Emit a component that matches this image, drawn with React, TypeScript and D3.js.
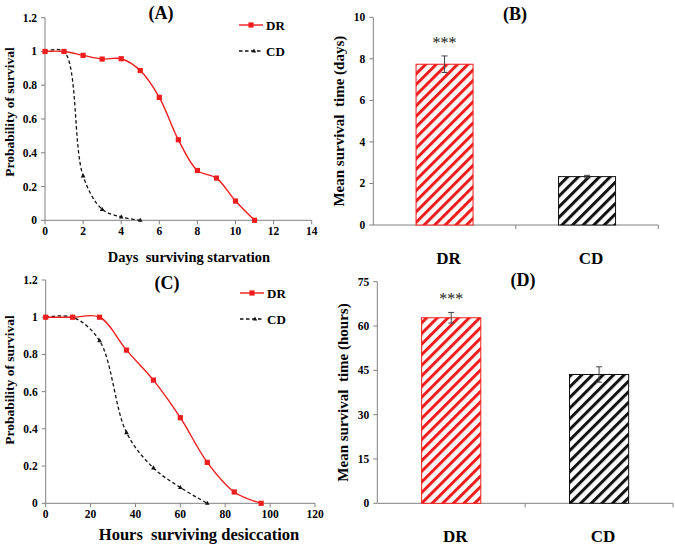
import React from "react";
import * as d3 from "d3";

const daysDR = [0, 1, 2, 3, 4, 5, 6, 7, 8, 9, 10, 11];
const survStarvDR = [1, 1, 0.977, 0.955, 0.957, 0.887, 0.728, 0.477, 0.295, 0.25, 0.114, 0];
const daysCD = [0, 1, 2, 3, 4, 5];
const survStarvCD = [1, 1, 0.263, 0.065, 0.02, 0];

const hoursDR = [0, 12, 24, 36, 48, 60, 72, 84, 96];
const survDesDR = [1, 1, 1, 0.823, 0.662, 0.46, 0.22, 0.061, 0];
const hoursCD = [0, 12, 24, 36, 48, 60, 72];
const survDesCD = [1, 1, 0.874, 0.38, 0.19, 0.085, 0];

const groups = ["DR", "CD"];
const meanStarv = [7.74, 2.33];
const seStarv = [0.4, 0.06];
const meanDes = [62.8, 43.6];
const seDes = [1.8, 2.6];

const probTicks = [0, 0.2, 0.4, 0.6, 0.8, 1, 1.2];
const dayTicks = [0, 2, 4, 6, 8, 10, 12, 14];
const hourTicks = [0, 20, 40, 60, 80, 100, 120];
const starvTicks = [0, 2, 4, 6, 8, 10];
const desTicks = [0, 15, 30, 45, 60, 75];

const FONT = "'Liberation Serif', 'Times New Roman', serif";
const AXIS = "#808080";
const RED = "#ee1c1c";

type LineProps = {
  x0: number; x1: number; y0: number; y1: number;
  xDomain: [number, number]; xTicks: number[];
  drX: number[]; drY: number[]; cdX: number[]; cdY: number[];
  title: string; xTitle: string; xTitleSize: number; xTitleY: number; xTitleX: number;
  legendX: number; legendY: number; titleX: number; titleY: number; yTitleY: number;
};

function tri(x: number, y: number, s: number) {
  return `M${x},${y - s} L${x + s * 0.9},${y + s * 0.6} L${x - s * 0.9},${y + s * 0.6} Z`;
}

function LinePanel(p: LineProps) {
  const xs = d3.scaleLinear().domain(p.xDomain).range([p.x0, p.x1]);
  const ys = d3.scaleLinear().domain([0, 1.2]).range([p.y1, p.y0]);
  const line = d3.line<[number, number]>()
    .x((d) => xs(d[0]))
    .y((d) => ys(d[1]))
    .curve(d3.curveCatmullRom.alpha(0.5));
  const dr = p.drX.map((x, i) => [x, p.drY[i]] as [number, number]);
  const cd = p.cdX.map((x, i) => [x, p.cdY[i]] as [number, number]);
  return (
    <g fontFamily={FONT} fontWeight="bold">
      <line x1={p.x0} x2={p.x0} y1={p.y0} y2={p.y1} stroke={AXIS} strokeWidth={1} />
      <line x1={p.x0} x2={p.x1} y1={p.y1} y2={p.y1} stroke={AXIS} strokeWidth={1} />
      {probTicks.map((t) => (
        <g key={"y" + t}>
          <line x1={p.x0 - 4} x2={p.x0} y1={ys(t)} y2={ys(t)} stroke={AXIS} />
          <text x={p.x0 - 8} y={ys(t)} dy="0.35em" textAnchor="end" fontSize={11.5}>{t === 0 || t === 1 ? String(t) : t.toFixed(1)}</text>
        </g>
      ))}
      {p.xTicks.map((t) => (
        <g key={"x" + t}>
          <line x1={xs(t)} x2={xs(t)} y1={p.y1} y2={p.y1 + 4} stroke={AXIS} />
          <text x={xs(t)} y={p.y1 + 15} textAnchor="middle" fontSize={11.5}>{t}</text>
        </g>
      ))}
      <path d={line(cd) || ""} fill="none" stroke="#111" strokeWidth={1.3} strokeDasharray="3.5,2.5" />
      <path d={line(dr) || ""} fill="none" stroke={RED} strokeWidth={1.4} />
      {cd.map((d, i) => (
        <path key={"c" + i} d={tri(xs(d[0]), ys(d[1]), 2.6)} fill="#111" />
      ))}
      {dr.map((d, i) => (
        <rect key={"d" + i} x={xs(d[0]) - 2.6} y={ys(d[1]) - 2.6} width={5.2} height={5.2} fill={RED} />
      ))}
      <text x={p.titleX} y={p.titleY} dy="0.35em" textAnchor="middle" fontSize={18}>{p.title}</text>
      <text x={p.xTitleX} y={p.xTitleY} textAnchor="middle" fontSize={p.xTitleSize} xmlSpace="preserve">{p.xTitle}</text>
      <text transform={`translate(14,${p.yTitleY}) rotate(-90)`} textAnchor="middle" fontSize={13.5}>Probability of survival</text>
      {/* legend */}
      <line x1={p.legendX} x2={p.legendX + 24} y1={p.legendY} y2={p.legendY} stroke={RED} strokeWidth={1.4} />
      <rect x={p.legendX + 12 - 2.6} y={p.legendY - 2.6} width={5.2} height={5.2} fill={RED} />
      <text x={p.legendX + 27} y={p.legendY} dy="0.35em" fontSize={13}>DR</text>
      <line x1={p.legendX} x2={p.legendX + 24} y1={p.legendY + 26} y2={p.legendY + 26} stroke="#111" strokeWidth={1.3} strokeDasharray="3.5,2.5" />
      <path d={tri(p.legendX + 15, p.legendY + 26, 2.4)} fill="#111" />
      <text x={p.legendX + 27} y={p.legendY + 26} dy="0.35em" fontSize={13}>CD</text>
    </g>
  );
}

type BarProps = {
  x0: number; x1: number; y0: number; y1: number;
  maxY: number; ticks: number[]; means: number[]; ses: number[];
  yTitle: string; title: string; titleX: number; titleY: number;
  labelY: number; id: string;
};

function BarPanel(p: BarProps) {
  const xs = d3.scaleBand().domain(groups).range([p.x0, p.x1]).paddingInner(0.6).paddingOuter(0.3);
  const xb = d3.scaleBand().domain(groups).range([p.x0, p.x1]);
  const ys = d3.scaleLinear().domain([0, p.maxY]).range([p.y1, p.y0]);
  const colors = [RED, "#111"];
  return (
    <g fontFamily={FONT} fontWeight="bold">
      <defs>
        {colors.map((c, i) => (
          <pattern key={i} id={`${p.id}h${i}`} patternUnits="userSpaceOnUse" width={7.5} height={8} patternTransform="rotate(45)">
            <rect width={7.5} height={8} fill="#fff" />
            <rect x={0} y={0} width={3} height={8} fill={c} />
          </pattern>
        ))}
      </defs>
      <line x1={p.x0} x2={p.x0} y1={p.y0} y2={p.y1} stroke={AXIS} />
      <line x1={p.x0} x2={p.x1} y1={p.y1} y2={p.y1} stroke={AXIS} />
      {p.ticks.map((t) => (
        <g key={t}>
          <line x1={p.x0 - 4} x2={p.x0} y1={ys(t)} y2={ys(t)} stroke={AXIS} />
          <text x={p.x0 - 8} y={ys(t)} dy="0.35em" textAnchor="end" fontSize={11.5}>{t}</text>
        </g>
      ))}
      {groups.map((g) => (
        <line key={"t" + g} x1={(xb(g) || 0) + xb.bandwidth()} x2={(xb(g) || 0) + xb.bandwidth()} y1={p.y1} y2={p.y1 + 4} stroke={AXIS} />
      ))}
      {groups.map((g, i) => {
        const x = xs(g) || 0;
        const w = xs.bandwidth();
        const cx = x + w / 2;
        return (
          <g key={g}>
            <rect x={x} y={ys(p.means[i])} width={w} height={p.y1 - ys(p.means[i])} fill={`url(#${p.id}h${i})`} stroke={colors[i]} strokeWidth={1} />
            <line x1={cx} x2={cx} y1={ys(p.means[i] + p.ses[i])} y2={ys(p.means[i] - p.ses[i])} stroke="#444" strokeWidth={1} />
            <line x1={cx - 3} x2={cx + 3} y1={ys(p.means[i] + p.ses[i])} y2={ys(p.means[i] + p.ses[i])} stroke="#444" />
            <line x1={cx - 3} x2={cx + 3} y1={ys(p.means[i] - p.ses[i])} y2={ys(p.means[i] - p.ses[i])} stroke="#444" />
            <text x={cx + 4} y={p.labelY} textAnchor="middle" fontSize={17}>{g}</text>
            {i === 0 && (
              <text x={cx} y={ys(p.means[i] + p.ses[i]) - 8} textAnchor="middle" fontSize={16} fontWeight="normal" fill="#222">***</text>
            )}
          </g>
        );
      })}
      <text x={p.titleX} y={p.titleY} dy="0.35em" textAnchor="middle" fontSize={18}>{p.title}</text>
      <text transform={`translate(${p.x0 - 29},${(p.y0 + p.y1) / 2}) rotate(-90)`} textAnchor="middle" fontSize={15} xmlSpace="preserve">{p.yTitle}</text>
    </g>
  );
}

export default function App() {
  return (
    <svg width={675} height={547} style={{ position: "absolute", left: 0, top: 0, background: "#fff" }}>
      <rect width={675} height={547} fill="#fff" />
      <LinePanel x0={45} x1={311.7} y0={17.7} y1={220.3} xDomain={[0, 14]} xTicks={dayTicks}
        drX={daysDR} drY={survStarvDR} cdX={daysCD} cdY={survStarvCD}
        title="(A)" xTitle="Days  surviving starvation" xTitleSize={14.5} xTitleY={262} xTitleX={189}
        legendX={239} legendY={25} titleX={161} titleY={13} yTitleY={112} />
      <LinePanel x0={45.7} x1={315} y0={280} y1={503.3} xDomain={[0, 120]} xTicks={hourTicks}
        drX={hoursDR} drY={survDesDR} cdX={hoursCD} cdY={survDesCD}
        title="(C)" xTitle="Hours  surviving desiccation" xTitleSize={16.5} xTitleY={540} xTitleX={199}
        legendX={240} legendY={293} titleX={167} titleY={283} yTitleY={380} />
      <BarPanel x0={373.3} x1={658.3} y0={17.3} y1={225} maxY={10} ticks={starvTicks}
        means={meanStarv} ses={seStarv} yTitle="Mean survival  time (days)" title="(B)"
        titleX={515} titleY={14} labelY={264} id="b" />
      <BarPanel x0={377.3} x1={673} y0={281.7} y1={503.3} maxY={75} ticks={desTicks}
        means={meanDes} ses={seDes} yTitle="Mean survival  time (hours)" title="(D)"
        titleX={523} titleY={280} labelY={542} id="d" />
    </svg>
  );
}
